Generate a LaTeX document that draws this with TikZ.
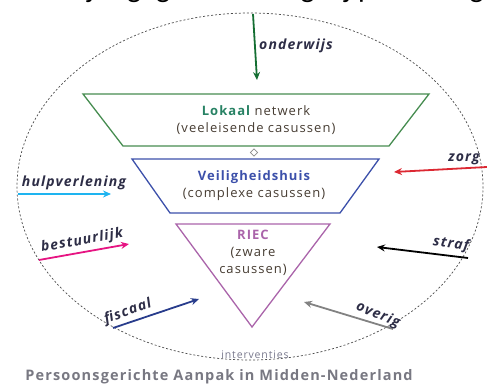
\documentclass[tikz,border=0pt]{standalone}
\usepackage{fontspec}
\setmainfont{Open Sans}[LetterSpace=8]
\newfontfamily\topfont{Carlito}
\usetikzlibrary{arrows.meta}
\definecolor{cGreen}{RGB}{70,140,80}
\definecolor{cLok}{RGB}{40,130,100}
\definecolor{cBlue}{RGB}{60,80,170}
\definecolor{cPurp}{RGB}{170,100,170}
\definecolor{cTxt}{RGB}{70,60,50}
\definecolor{cLbl}{RGB}{45,45,70}
\definecolor{cOnd}{RGB}{20,110,50}
\definecolor{cHulp}{RGB}{30,180,240}
\definecolor{cZorg}{RGB}{220,40,50}
\definecolor{cBest}{RGB}{230,20,130}
\definecolor{cFisc}{RGB}{40,60,140}
\definecolor{cOver}{RGB}{130,130,130}
\definecolor{cCap}{RGB}{120,120,130}
\definecolor{cInt}{RGB}{120,120,140}
\tikzset{
  inarrow/.style={line width=1.8pt,-{Stealth[length=8pt,width=7pt]}},
  lbl/.style={font=\fontsize{14}{16}\selectfont\itshape\bfseries, text=cLbl, inner sep=0pt},
  boxtxt/.style={font=\fontsize{13}{17}\selectfont, align=center, text=cTxt, inner sep=0pt},
}
\begin{document}
\begin{tikzpicture}[x=1pt,y=-1pt]
\useasboundingbox (0,0) rectangle (487,385);
\begin{scope}
\clip (0,0) rectangle (487,385);
\node[anchor=base west, inner sep=0pt, font=\topfont\fontsize{30}{30}\selectfont] (toptxt) at (-6,-2.5) {Werkwijze gegevensdeling bij persoonsgerichte aanpak};
\end{scope}
% dashed ellipse
\draw[dash pattern=on 2pt off 2pt, line width=0.7pt, black!70] (250,186.5) ellipse [x radius=233, y radius=173.5];
% shapes
\draw[cGreen, line width=1.3pt] (83,94) -- (429,94) -- (389,146) -- (123,146) -- cycle;
\draw[cBlue, line width=1.3pt] (132,159) -- (379,159) -- (340,213) -- (170,213) -- cycle;
\draw[cPurp, line width=1.3pt] (176,224) -- (330,224) -- (252,327) -- cycle;
\node[draw=black!45, fill=white, shape=rectangle, rotate=45, minimum size=5pt, inner sep=0pt, line width=0.7pt] (conn) at (254,152.5) {};
% texts in shapes
\node[boxtxt] (lok) at (256,120.5) {{\bfseries\color{cLok}Lokaal} netwerk\\(veeleisende casussen)};
\node[boxtxt] (vei) at (254,185.5) {{\bfseries\color{cBlue}Veiligheidshuis}\\(complexe casussen)};
\node[boxtxt] (riec) at (253,253) {{\bfseries\color{cPurp}RIEC}\\(zware\\casussen)};
% arrows
\coordinate (o1) at (253,14); \coordinate (o2) at (257,80);
\draw[inarrow, cOnd] (o1) -- (o2);
\node[lbl] (ond) at (296,46) {onderwijs};
\coordinate (h1) at (18,194); \coordinate (h2) at (111,194);
\draw[inarrow, cHulp] (h1) -- (h2);
\node[lbl] (hul) at (74,183) {hulpverlening};
\coordinate (z1) at (487,167); \coordinate (z2) at (394,172);
\draw[inarrow, cZorg] (z1) -- (z2);
\node[lbl] (zor) at (464,159) {zorg};
\coordinate (b1) at (39,260); \coordinate (b2) at (129,244);
\draw[inarrow, cBest] (b1) -- (b2);
\node[lbl, rotate=10] (bes) at (82,241) {bestuurlijk};
\coordinate (s1) at (468,258); \coordinate (s2) at (377,247);
\draw[inarrow, black] (s1) -- (s2);
\node[lbl, rotate=-8] (str) at (451,244) {straf};
\coordinate (f1) at (113,328); \coordinate (f2) at (199,299);
\draw[inarrow, cFisc] (f1) -- (f2);
\node[lbl, rotate=20] (fis) at (128,312) {fiscaal};
\coordinate (v1) at (393,329); \coordinate (v2) at (304,302);
\draw[inarrow, cOver] (v1) -- (v2);
\node[lbl, rotate=-22] (ove) at (378,315) {overig};
% bottom labels
\node[font=\fontsize{10.5}{12}\selectfont, text=cInt, inner sep=0pt] (int) at (255,355) {interventies};
\node[font=\fontsize{14.5}{16}\selectfont\bfseries, text=cCap, inner sep=0pt] (cap) at (219,377) {Persoonsgerichte Aanpak in Midden-Nederland};
\end{tikzpicture}
\end{document}
